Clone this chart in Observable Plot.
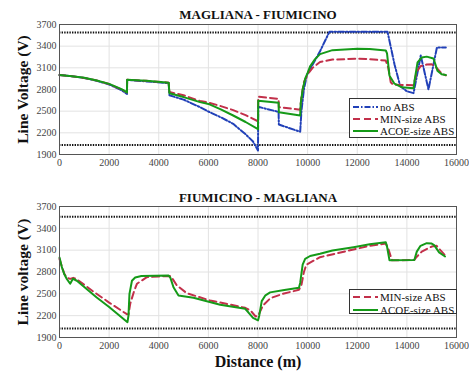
<!DOCTYPE html>
<html><head><meta charset="utf-8">
<script src="https://cdn.jsdelivr.net/npm/d3@7"></script>
<script src="https://cdn.jsdelivr.net/npm/@observablehq/plot@0.6"></script>
<style>
body{margin:0;background:#fff;}
#wrap{position:relative;width:469px;height:372px;overflow:hidden;font-family:"Liberation Serif",serif;}
#wrap > div, #wrap > svg{position:absolute;left:0;}
</style></head><body>
<div id="wrap"><div id="p1" style="top:0"></div><div id="p2" style="top:186px"></div><svg id="leg" width="469" height="372" style="top:0"></svg></div>
<script>
// ---------- data ----------
const xTicks = [0, 2000, 4000, 6000, 8000, 10000, 12000, 14000, 16000];
const yTicks = [1900, 2200, 2500, 2800, 3100, 3400, 3700];
const seriesNames = ["no ABS", "MIN-size ABS", "ACOE-size ABS"];
const titles = ["MAGLIANA - FIUMICINO", "FIUMICINO - MAGLIANA"];
const yLabels = ["Line Voltage (V)", "Line voltage (V)"];
const xLabel = "Distance (m)";
const topLimits = [3590, 2030];
const bottomLimits = [3560, 2025];

// Top panel: MAGLIANA - FIUMICINO  [distance m, voltage V]
const topNoABS = [[0,3000],[500,2985],[1000,2960],[1500,2920],[2000,2870],[2500,2790],[2720,2740],[2725,2932],[3500,2912],[4400,2888],[4430,2720],[5000,2660],[5665,2555],[6000,2495],[6500,2415],[7000,2325],[7500,2180],[7800,2080],[8000,1955],[8010,2560],[8830,2490],[8840,2315],[9700,2215],[9750,2500],[9850,2800],[9970,3000],[10500,3330],[10880,3600],[13220,3600],[13500,3150],[13730,2850],[14000,2775],[14270,2750],[14560,3270],[14870,2800],[15210,3380],[15570,3380]];
const topMIN = [[0,3000],[500,2985],[1000,2960],[1500,2925],[2000,2875],[2500,2800],[2720,2760],[2725,2935],[3500,2920],[4400,2895],[4430,2765],[5000,2720],[5665,2640],[6000,2620],[6500,2570],[7000,2515],[7500,2445],[8000,2360],[8010,2700],[8830,2670],[8840,2555],[9700,2520],[9750,2700],[9850,2900],[10000,3010],[10200,3100],[10500,3180],[11000,3215],[12000,3225],[12500,3220],[13150,3200],[13250,3100],[13350,2900],[13450,2865],[14270,2860],[14300,2900],[14400,3050],[14560,3125],[14800,3145],[15000,3150],[15200,3100],[15400,3020],[15570,2995]];
const topACOE = [[0,3000],[500,2985],[1000,2962],[1500,2925],[2000,2878],[2500,2805],[2720,2760],[2725,2935],[3500,2920],[4400,2895],[4430,2748],[5000,2695],[5665,2625],[6000,2600],[6500,2525],[7000,2440],[7500,2350],[8000,2250],[8010,2645],[8830,2615],[8840,2485],[9700,2440],[9720,2600],[9800,2800],[9900,2950],[10000,3030],[10100,3120],[10300,3220],[10500,3290],[11000,3345],[12000,3365],[12500,3362],[13150,3340],[13200,3300],[13300,2990],[13500,2880],[13800,2830],[14270,2818],[14300,2900],[14430,3174],[14600,3243],[14800,3255],[15070,3229],[15150,3150],[15230,3060],[15400,3010],[15570,3000]];

// Bottom panel: FIUMICINO - MAGLIANA
const botMIN = [[0,2980],[100,2870],[200,2770],[300,2720],[430,2705],[550,2720],[700,2700],[1370,2530],[2000,2380],[2716,2220],[2780,2215],[2850,2363],[3000,2530],[3120,2638],[3520,2729],[4000,2738],[4450,2745],[4550,2710],[4730,2615],[5130,2509],[6073,2408],[6476,2380],[7484,2308],[7700,2270],[7900,2190],[8000,2195],[8200,2340],[8500,2440],[9000,2500],[9650,2555],[9750,2620],[9850,2800],[9950,2900],[10500,3004],[11850,3109],[12500,3160],[13150,3190],[13250,3120],[13400,2960],[14300,2965],[14400,3010],[14600,3080],[15000,3150],[15200,3160],[15350,3100],[15540,3030]];
const botACOE = [[0,3000],[100,2860],[200,2765],[300,2700],[430,2640],[540,2707],[700,2680],[1500,2450],[2000,2320],[2740,2110],[2780,2200],[2820,2500],[2920,2680],[3050,2725],[3300,2745],[4400,2752],[4470,2720],[4594,2591],[4796,2477],[5400,2446],[6476,2350],[7484,2294],[7600,2250],[7800,2170],[8000,2135],[8050,2200],[8150,2400],[8300,2480],[8490,2520],[9000,2550],[9650,2583],[9700,2650],[9800,2900],[9900,2980],[10100,3020],[10500,3050],[11000,3095],[11850,3141],[12500,3180],[13150,3210],[13200,3150],[13300,2960],[14300,2965],[14400,3080],[14550,3160],[14800,3196],[15000,3190],[15100,3170],[15300,3070],[15540,3013]];

// ---------- styles ----------
const styles = [
  {stroke:"#2140b8", strokeDasharray:"6,2,1.5,2"},
  {stroke:"#c2304a", strokeDasharray:"7,4"},
  {stroke:"#159a18", strokeDasharray:null}
];
const FONT = "Liberation Serif";
const fmt = d3.format("d");

function panel({title, ylabel, series, limits, xlabel, mt, mb, titleDy}) {
  const marks = [
    Plot.gridX(xTicks, {stroke:"#e2e2e2", strokeOpacity:1}),
    Plot.gridY(yTicks, {stroke:"#e2e2e2", strokeOpacity:1}),
    Plot.ruleY(limits, {stroke:"#111", strokeWidth:2, strokeDasharray:"1.4,1.2"})
  ];
  series.forEach(([data, si]) => {
    const s = styles[si];
    marks.push(Plot.line(data, {x:d=>d[0], y:d=>d[1], stroke:s.stroke, strokeWidth:2,
      strokeDasharray:s.strokeDasharray, curve:"linear"}));
  });
  marks.push(
    Plot.frame({stroke:"#555", strokeWidth:1}),
    Plot.axisX(xTicks, {tickSize:0, tickPadding:4, fontSize:10, fontFamily:FONT, fill:"#444", label:null, tickFormat:fmt}),
    Plot.axisY(yTicks, {tickSize:0, tickPadding:3, fontSize:10, fontFamily:FONT, fill:"#444", label:null, tickFormat:fmt}),
    Plot.text([title], {frameAnchor:"top", dy:titleDy, fontFamily:FONT, fontWeight:"bold", fontSize:13, fill:"#111", lineAnchor:"middle"}),
    Plot.text([ylabel], {frameAnchor:"left", dx:-36, rotate:-90, textAnchor:"middle", lineAnchor:"middle", fontFamily:FONT, fontWeight:"bold", fontSize:15.5, fill:"#111"})
  );
  if (xlabel) marks.push(Plot.text([xlabel], {frameAnchor:"bottom", dy:24, lineAnchor:"middle", fontFamily:FONT, fontWeight:"bold", fontSize:16, fill:"#111"}));
  return Plot.plot({
    width:469, height:186,
    marginLeft:59, marginRight:13, marginTop:mt, marginBottom:mb,
    style:{fontFamily:FONT, background:"white", overflow:"visible"},
    x:{domain:[0,16000]},
    y:{domain:[1900,3700]},
    marks
  });
}

document.getElementById("p1").appendChild(panel({
  title:titles[0], ylabel:yLabels[0], limits:topLimits, mt:24, mb:32, titleDy:-10,
  series:[[topNoABS,0],[topMIN,1],[topACOE,2]]
}));
document.getElementById("p2").appendChild(panel({
  title:titles[1], ylabel:yLabels[1], limits:bottomLimits, mt:20, mb:35, titleDy:-9, xlabel:xLabel,
  series:[[botMIN,1],[botACOE,2]]
}));

// ---------- legends ----------
const leg = d3.select("#leg");
function legend(x0, y0, w, rows, idx) {
  const h = rows.length === 3 ? 39 : 24;
  leg.append("rect").attr("x", x0+0.5).attr("y", y0+0.5).attr("width", w).attr("height", h)
    .attr("fill", "white").attr("stroke", "#333").attr("stroke-width", 1);
  rows.forEach((yy, i) => {
    const s = styles[idx[i]];
    leg.append("line").attr("x1", x0+4).attr("x2", x0+29).attr("y1", yy).attr("y2", yy)
      .attr("stroke", s.stroke).attr("stroke-width", 2).attr("stroke-dasharray", s.strokeDasharray);
    leg.append("text").attr("x", x0+31).attr("y", yy).attr("dy", "0.35em")
      .attr("font-family", FONT).attr("font-size", 11).attr("fill", "#111").text(seriesNames[idx[i]]);
  });
}
legend(349, 98, 107, [107, 119, 131], [0,1,2]);
legend(349, 289, 107, [297, 310], [1,2]);
</script></body></html>
